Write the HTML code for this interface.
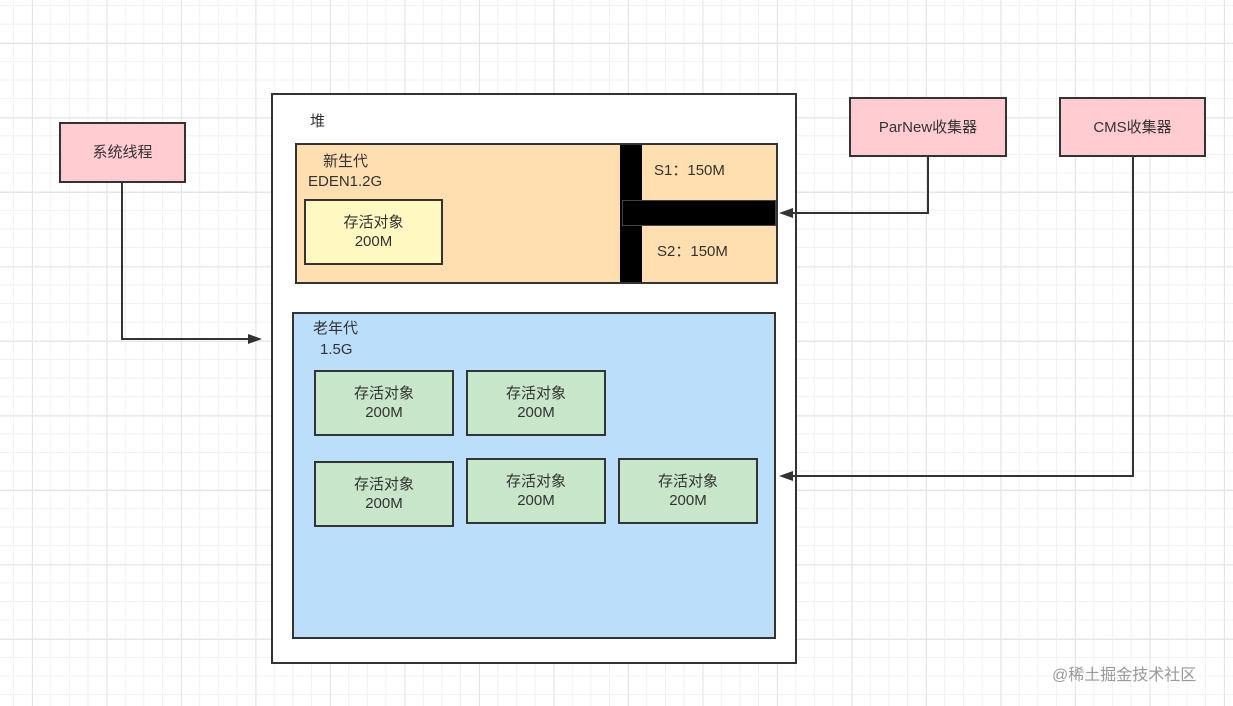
<!DOCTYPE html>
<html><head><meta charset="utf-8"><style>
body{margin:0;width:1233px;height:706px;overflow:hidden;position:relative;font-family:"Liberation Sans","Noto Sans CJK SC",sans-serif;color:#333;
background-color:#fff;
background-image:linear-gradient(#e6e6e6 1px,transparent 1px),linear-gradient(90deg,#e6e6e6 1px,transparent 1px),linear-gradient(#f1f1f1 1px,transparent 1px),linear-gradient(90deg,#f1f1f1 1px,transparent 1px);
background-size:74.5px 74.5px,74.5px 74.5px,18.63px 18.63px,18.63px 18.63px;
background-position:0 43px,32px 0,0 5px,13px 0;}
.b{position:absolute;box-sizing:border-box;border:2px solid #333;display:flex;align-items:center;justify-content:center;text-align:center;font-size:15px;line-height:19px}
.t{position:absolute;font-size:15px;line-height:19px}
.g{background:#c8e6c9}
</style></head><body>
<div class="b" style="left:59px;top:122px;width:127px;height:61px;background:#ffccd2">系统线程</div>
<div class="b" style="left:849px;top:97px;width:158px;height:60px;background:#ffccd2">ParNew收集器</div>
<div class="b" style="left:1059px;top:97px;width:147px;height:60px;background:#ffccd2">CMS收集器</div>
<div class="b" style="left:271px;top:93px;width:526px;height:571px;background:#fff"></div>
<div class="t" style="left:310px;top:112px">堆</div>
<div class="b" style="left:295px;top:143px;width:483px;height:141px;background:#ffdfb0"></div>
<div class="t" style="left:323px;top:152px">新生代</div>
<div class="t" style="left:308px;top:172px">EDEN1.2G</div>
<div class="b" style="left:304px;top:199px;width:139px;height:66px;background:#fff8c0">存活对象<br>200M</div>
<div style="position:absolute;left:620px;top:145px;width:22px;height:137px;background:#000"></div>
<div style="position:absolute;left:622px;top:200px;width:154px;height:26px;background:#000;border:1px solid #444;box-sizing:border-box"></div>
<div class="t" style="left:654px;top:161px">S1：150M</div>
<div class="t" style="left:657px;top:242px">S2：150M</div>
<div class="b" style="left:292px;top:312px;width:484px;height:327px;background:#bbdefb"></div>
<div class="t" style="left:313px;top:319px">老年代</div>
<div class="t" style="left:320px;top:340px">1.5G</div>
<div class="b g" style="left:314px;top:370px;width:140px;height:66px">存活对象<br>200M</div>
<div class="b g" style="left:466px;top:370px;width:140px;height:66px">存活对象<br>200M</div>
<div class="b g" style="left:314px;top:461px;width:140px;height:66px">存活对象<br>200M</div>
<div class="b g" style="left:466px;top:458px;width:140px;height:66px">存活对象<br>200M</div>
<div class="b g" style="left:618px;top:458px;width:140px;height:66px">存活对象<br>200M</div>
<svg style="position:absolute;left:0;top:0" width="1233" height="706">
<g fill="none" stroke="#333" stroke-width="2">
<polyline points="122,183 122,339 250,339"/>
<polyline points="928,157 928,213 792,213"/>
<polyline points="1133,157 1133,476 792,476"/>
</g>
<g fill="#333">
<polygon points="262,339 248,334 248,344"/>
<polygon points="779,213 793,208 793,218"/>
<polygon points="779,476 793,471 793,481"/>
</g>
</svg>
<div class="t" style="left:1052px;top:666px;font-size:16px;color:#999">@稀土掘金技术社区</div>
</body></html>
